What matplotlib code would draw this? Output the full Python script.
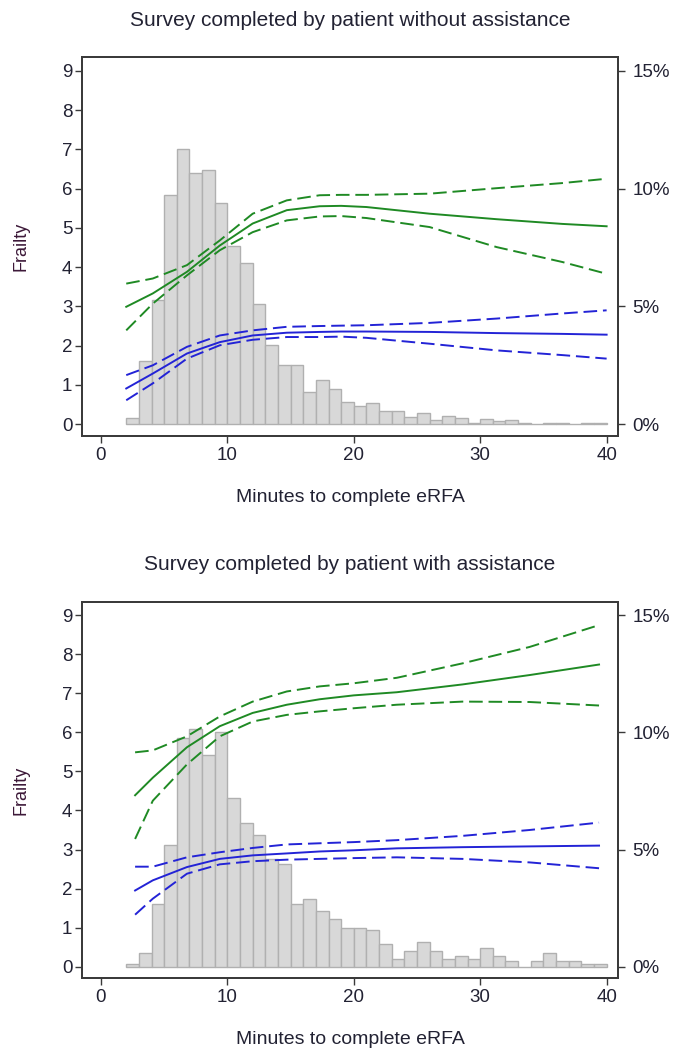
import matplotlib
matplotlib.use("Agg")
import matplotlib.pyplot as plt
import numpy as np

plt.rcParams['font.family'] = ['Liberation Sans', 'DejaVu Sans']

# histogram: percent of patients per 1-minute bin, bins start at 2 min
bin_left = np.arange(2, 40)
hist_top = [0.28, 2.67, 5.27, 9.73, 11.68, 10.67, 10.8, 9.37, 7.58, 6.83,
            5.1, 3.38, 2.53, 2.53, 1.37, 1.87, 1.5, 0.95, 0.78, 0.9,
            0.55, 0.58, 0.32, 0.48, 0.2, 0.33, 0.27, 0.05, 0.22, 0.13,
            0.2, 0.05, 0.0, 0.05, 0.05, 0.0, 0.05, 0.05]
hist_bot = [0.13, 0.57, 2.68, 5.2, 9.77, 10.15, 9.03, 10.02, 7.22, 6.13,
            5.62, 4.6, 4.38, 2.68, 2.87, 2.37, 2.05, 1.63, 1.63, 1.57,
            0.95, 0.33, 0.67, 1.07, 0.67, 0.33, 0.45, 0.33, 0.78, 0.45,
            0.25, 0.0, 0.25, 0.57, 0.25, 0.25, 0.13, 0.13]

# fitted frailty curves (green = upper group, blue = lower group)
x_top = [2.0, 4.1, 6.8, 9.4, 12.0, 14.7, 17.3, 19.0, 21.0, 26.0, 31.3, 36.5, 40.0]
g_top = [2.99, 3.33, 3.88, 4.55, 5.11, 5.45, 5.55, 5.56, 5.53, 5.36, 5.22, 5.10, 5.04]
g_top_hi = [3.58, 3.71, 4.05, 4.68, 5.36, 5.70, 5.83, 5.84, 5.84, 5.87, 6.01, 6.14, 6.25]
g_top_lo = [2.39, 3.07, 3.79, 4.43, 4.89, 5.19, 5.29, 5.30, 5.25, 5.02, 4.51, 4.13, 3.83]
b_top = [0.91, 1.29, 1.80, 2.09, 2.26, 2.33, 2.35, 2.36, 2.36, 2.35, 2.32, 2.30, 2.28]
b_top_hi = [1.25, 1.50, 1.97, 2.26, 2.39, 2.48, 2.50, 2.51, 2.52, 2.58, 2.69, 2.82, 2.90]
b_top_lo = [0.61, 1.04, 1.67, 2.01, 2.15, 2.22, 2.22, 2.23, 2.20, 2.05, 1.88, 1.76, 1.67]

x_bot = [2.7, 4.1, 6.8, 9.4, 12.0, 14.7, 17.3, 20.0, 23.4, 28.6, 33.9, 39.4]
g_bot = [4.39, 4.84, 5.62, 6.16, 6.50, 6.71, 6.85, 6.95, 7.03, 7.23, 7.47, 7.74]
g_bot_hi = [5.49, 5.54, 5.90, 6.41, 6.79, 7.05, 7.18, 7.26, 7.40, 7.77, 8.19, 8.75]
g_bot_lo = [3.27, 4.25, 5.18, 5.90, 6.28, 6.45, 6.54, 6.62, 6.71, 6.79, 6.78, 6.69]
b_bot = [1.95, 2.21, 2.55, 2.76, 2.85, 2.90, 2.95, 2.98, 3.03, 3.06, 3.08, 3.10]
b_bot_hi = [2.56, 2.56, 2.80, 2.93, 3.04, 3.13, 3.16, 3.19, 3.24, 3.35, 3.50, 3.69]
b_bot_lo = [1.33, 1.74, 2.38, 2.62, 2.70, 2.74, 2.76, 2.78, 2.80, 2.76, 2.67, 2.52]

titles = ["Survey completed by patient without assistance",
          "Survey completed by patient with assistance"]

green = '#1f8a24'
blue = '#2323d6'
text_col = '#222233'
spine_col = '#3a3a3a'

fig = plt.figure(figsize=(6.75, 10.52), dpi=100)
W, H = 675.0, 1052.0

panels = [
    (57, 436, hist_top, x_top, g_top, g_top_hi, g_top_lo, b_top, b_top_hi, b_top_lo),
    (601.7, 978.3, hist_bot, x_bot, g_bot, g_bot_hi, g_bot_lo, b_bot, b_bot_hi, b_bot_lo),
]

for i, (top, bot, hist, xs, g, gh, gl, b, bh, bl) in enumerate(panels):
    ax = fig.add_axes([82 / W, 1 - bot / H, (618 - 82) / W, (bot - top) / H])
    ax2 = ax.twinx()

    ax2.bar(bin_left, hist, width=1.0, align='edge', color='#d8d8d8',
            edgecolor='#b0b0b0', linewidth=1.0)

    dash = (0, (7, 3))
    ax.plot(xs, gh, color=green, lw=1.4, ls=dash)
    ax.plot(xs, gl, color=green, lw=1.4, ls=dash)
    ax.plot(xs, g, color=green, lw=1.4)
    ax.plot(xs, bh, color=blue, lw=1.4, ls=dash)
    ax.plot(xs, bl, color=blue, lw=1.4, ls=dash)
    ax.plot(xs, b, color=blue, lw=1.4)

    ax.set_zorder(ax2.get_zorder() + 1)
    ax.patch.set_visible(False)

    ax.set_xlim(-1.5, 40.9)
    ax.set_ylim(-0.3, 9.35)
    ax2.set_ylim(-0.3 * 5 / 3, 9.35 * 5 / 3)
    ax.set_xticks([0, 10, 20, 30, 40])
    ax.set_yticks(range(10))
    ax2.set_yticks([0, 5, 10, 15])
    ax2.set_yticklabels(['0%', '5%', '10%', '15%'])

    for a, p in ((ax, 2), (ax2, 5.5)):
        a.tick_params(direction='out', length=5, width=1.0, color=spine_col,
                      labelsize=13.5, labelcolor=text_col, pad=p)
        for s in a.spines.values():
            s.set_color(spine_col)
            s.set_linewidth(1.3)
    ax.tick_params(axis='x', pad=3)

    ax.set_ylabel("Frailty", fontsize=13, color='#3c1838', labelpad=23)

    fig.text(350 / W, 1 - (top - 37) / H, titles[i], ha='center', va='center',
             fontsize=15, color=text_col)
    fig.text(350 / W, 1 - (bot + 61) / H, "Minutes to complete eRFA",
             ha='center', va='center', fontsize=14, color=text_col)

fig.savefig("out.png", dpi=100)
